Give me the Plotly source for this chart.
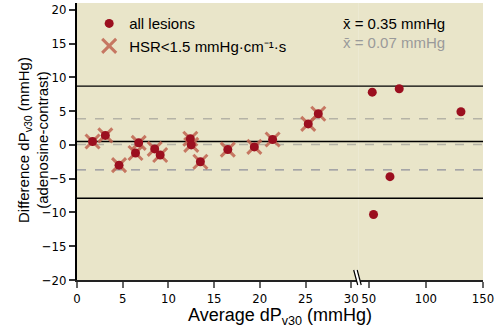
import plotly.graph_objects as go

# ---- data ----
x_hsr = [1.7, 3.1, 4.6, 6.4, 6.75, 8.5, 9.1, 12.4, 12.5, 13.5, 16.5, 19.4, 21.4, 25.3, 26.4]
y_hsr = [0.5, 1.4, -3.0, -1.2, 0.3, -0.6, -1.5, 0.9, 0.0, -2.5, -0.7, -0.3, 0.8, 3.1, 4.6]
x_high = [53.1, 76.7, 130.7, 68.6, 54.2]
y_high = [7.8, 8.3, 4.9, -4.7, -10.3]

mean_all = 0.5
loa_all = [8.7, -7.9]
mean_hsr = 0.07
loa_hsr = [3.85, -3.7]

left_ticks = [0, 5, 10, 15, 20, 25, 30]
right_ticks = [50, 100, 150]
y_ticks = [-20, -15, -10, -5, 0, 5, 10, 15, 20]

# ---- layout geometry (pixels) ----
W, H = 502, 331
L, R, T, B = 77, 482.7, 3, 280
brk = 358
d = (brk - L) / (R - L)
pw, ph = R - L, B - T

def px(xp):
    return (xp - L) / pw

def py(yp):
    return (B - yp) / ph

DOT = "#9b0f1f"
XCOL = "rgba(192,100,80,0.85)"
BG = "#e9e5c9"
NUMFONT = "Liberation Sans Narrow, Arial Narrow, DejaVu Sans Condensed, sans-serif"
TXTFONT = "Liberation Sans, Arial, sans-serif"

fig = go.Figure()

# HSR crosses (drawn under the dots)
fig.add_trace(go.Scatter(x=x_hsr, y=y_hsr, mode="markers", xaxis="x", yaxis="y",
                         name="HSR<1.5 mmHg·cm\u207b\u00b9·s", legendrank=2,
                         marker=dict(symbol="x-thin-open", size=14, color=XCOL,
                                     line=dict(width=3, color=XCOL))))
fig.add_trace(go.Scatter(x=x_hsr, y=y_hsr, mode="markers", xaxis="x", yaxis="y",
                         name="all lesions", legendrank=1,
                         marker=dict(symbol="circle", size=9, color=DOT)))
fig.add_trace(go.Scatter(x=x_high, y=y_high, mode="markers", xaxis="x2", yaxis="y",
                         showlegend=False,
                         marker=dict(symbol="circle", size=9, color=DOT)))

shapes = []
for v in loa_all + [mean_all]:
    shapes.append(dict(type="line", xref="paper", yref="y", x0=0, x1=1, y0=v, y1=v,
                       line=dict(color="black", width=1.3), layer="below"))
shapes.append(dict(type="line", xref="paper", yref="y", x0=0, x1=1, y0=loa_hsr[0], y1=loa_hsr[0],
                   line=dict(color="#b5b3a6", width=1.5, dash="dash"), layer="below"))
shapes.append(dict(type="line", xref="paper", yref="y", x0=0, x1=1, y0=mean_hsr, y1=mean_hsr,
                   line=dict(color="#b5b3a6", width=1.5, dash="dash"), layer="below"))
shapes.append(dict(type="line", xref="paper", yref="y", x0=0, x1=1, y0=loa_hsr[1], y1=loa_hsr[1],
                   line=dict(color="#8f909c", width=1.3, dash="dash"), layer="below"))
# axis break marker
shapes.append(dict(type="path", xref="paper", yref="paper",
                   path=f"M {px(353.5)} {py(270)} L {px(357.5)} {py(284)} L {px(361)} {py(284)} L {px(357)} {py(270)} Z",
                   fillcolor="white", line=dict(width=0), layer="above"))
shapes.append(dict(type="path", xref="paper", yref="paper",
                   path=f"M {px(353.5)} {py(270)} L {px(357.5)} {py(285)}",
                   line=dict(color="black", width=1.2), layer="above"))
shapes.append(dict(type="path", xref="paper", yref="paper",
                   path=f"M {px(357)} {py(270)} L {px(361)} {py(285)}",
                   line=dict(color="black", width=1.2), layer="above"))

annotations = [
    dict(xref="paper", yref="paper", x=px(341), y=py(23), xanchor="left", yanchor="middle",
         text="x\u0304 = 0.35 mmHg", showarrow=False,
         font=dict(family=TXTFONT, size=15, color="black")),
    dict(xref="paper", yref="paper", x=px(341), y=py(42), xanchor="left", yanchor="middle",
         text="x\u0304 = 0.07 mmHg", showarrow=False,
         font=dict(family=TXTFONT, size=15, color="#9a9a9a")),
    dict(xref="paper", yref="paper", x=px(33), y=py(140), xanchor="center", yanchor="middle",
         textangle=-90, showarrow=False,
         text="Difference dP<sub>v30</sub> (mmHg)<br>(adenosine-contrast)",
         font=dict(family=TXTFONT, size=15, color="black")),
    dict(xref="paper", yref="paper", x=px(280), y=py(316), xanchor="center",
         yanchor="middle", showarrow=False,
         text="Average dP<sub>v30</sub> (mmHg)",
         font=dict(family=TXTFONT, size=18, color="black")),
]

axis_common = dict(showgrid=False, zeroline=False, ticks="outside", ticklen=6,
                   tickcolor="#666", tickwidth=1.5, showline=True, linecolor="#222",
                   linewidth=1.5, tickfont=dict(family=NUMFONT, size=13, color="black"))

fig.update_layout(
    width=W, height=H,
    margin=dict(l=L, r=W - R, t=T, b=H - B),
    paper_bgcolor="white", plot_bgcolor=BG,
    shapes=shapes, annotations=annotations,
    xaxis=dict(domain=[0, d], range=[0, 30 * (brk - L) / 274], tickvals=left_ticks,
               anchor="y", **axis_common),
    xaxis2=dict(domain=[d, 1], range=[50 - (368.5 - brk) / 1.142, 150], tickvals=right_ticks,
                anchor="y", **axis_common),
    yaxis=dict(range=[-20, 21], tickvals=y_ticks, showgrid=False, zeroline=False,
               ticks="outside", ticklen=6, tickcolor="#333", tickwidth=1.5,
               showline=True, linecolor="black", linewidth=1.8,
               tickfont=dict(family=NUMFONT, size=13, color="black")),
    legend=dict(x=0.03, y=0.985, xanchor="left", yanchor="top", bgcolor="rgba(0,0,0,0)",
                font=dict(family=TXTFONT, size=15, color="black"), itemwidth=30,
                tracegroupgap=0),
    showlegend=True,
)

fig.write_html("out.html")
